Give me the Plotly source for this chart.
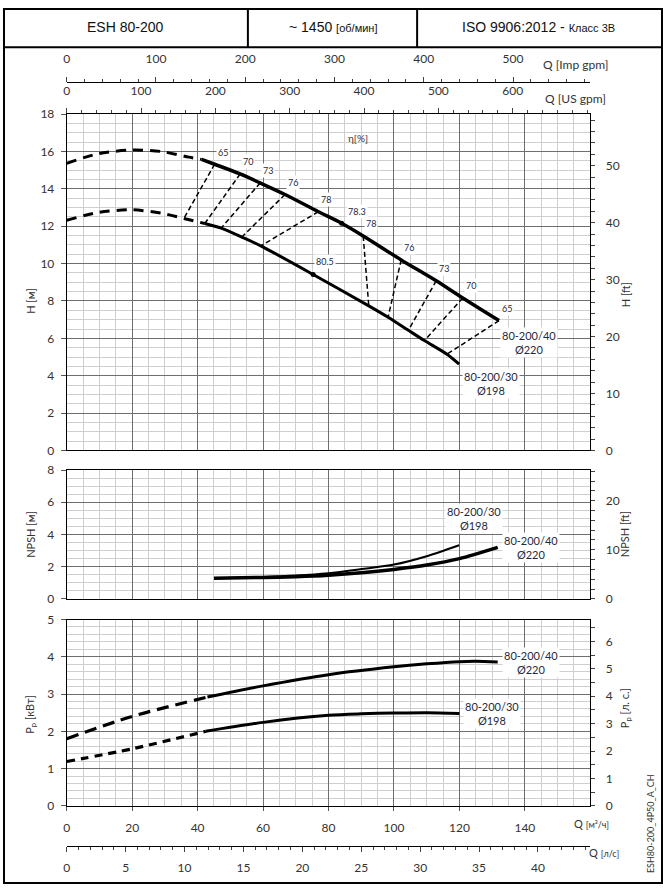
import plotly.graph_objects as go

W, HGT = 663, 891

# ---------------- data ----------------
# unit conversions (relative to m3/h, m, kW)
M3H_PER_IMPGPM = 0.272765
M3H_PER_USGPM = 0.227125
M3H_PER_LS = 3.6
FT_PER_M = 3.28084
KW_PER_HP = 0.7355
Q_MAX = 160

# H curves  (Q m3/h, H m)
q_h220_dash = [0, 10, 20, 29, 37.3, 41.2]
h_h220_dash = [15.37, 15.9, 16.08, 16.0, 15.7, 15.58]
q_h220 = [41.2, 45.2, 53.0, 59.1, 66.7, 76.9, 84.0, 90.6, 102.2, 112.9, 121.0, 132.1]
h_h220 = [15.58, 15.32, 14.80, 14.32, 13.70, 12.78, 12.16, 11.48, 10.2, 9.08, 8.16, 6.95]

q_h198_dash = [0, 10, 20, 29, 35.8, 42.2]
h_h198_dash = [12.32, 12.75, 12.88, 12.7, 12.42, 12.15]
q_h198 = [42.2, 47.2, 53.5, 59.3, 75.3, 92.3, 98.2, 104.4, 109.3, 116.2, 119.9]
h_h198 = [12.15, 11.9, 11.42, 10.95, 9.42, 7.74, 7.13, 6.43, 5.88, 5.15, 4.62]

# iso-efficiency lines
eta_labels = ["65", "70", "73", "76", "78", "78", "76", "73", "70", "65"]
eta_q_top = [45.2, 53.0, 59.1, 66.7, 76.9, 90.6, 102.2, 112.9, 121.0, 132.1]
eta_h_top = [15.32, 14.80, 14.32, 13.70, 12.78, 11.48, 10.2, 9.08, 8.16, 6.95]
eta_q_bot = [35.8, 42.2, 47.2, 53.5, 59.3, 92.3, 98.2, 104.4, 109.3, 116.2]
eta_h_bot = [12.42, 12.15, 11.9, 11.42, 10.95, 7.74, 7.13, 6.43, 5.88, 5.15]

# best efficiency points
bep_labels = ["78.3", "80.5"]
bep_q = [84.0, 75.3]
bep_h = [12.16, 9.42]

# NPSH curves
q_npsh198 = [45, 60, 70, 80, 90, 100, 110, 119.9]
npsh198 = [1.28, 1.36, 1.45, 1.6, 1.85, 2.13, 2.65, 3.33]
q_npsh220 = [45, 60, 70, 80, 90, 100, 110, 120, 131.7]
npsh220 = [1.28, 1.33, 1.38, 1.47, 1.62, 1.83, 2.1, 2.5, 3.2]

# Power curves
q_p220_dash = [0, 20, 43]
p220_dash = [1.80, 2.40, 2.92]
q_p220 = [43, 60, 80, 100, 110, 120, 125, 131.7]
p220 = [2.92, 3.22, 3.52, 3.73, 3.81, 3.87, 3.88, 3.86]

q_p198_dash = [0, 20, 42.5]
p198_dash = [1.19, 1.53, 2.0]
q_p198 = [42.5, 60, 80, 90, 100, 110, 120]
p198 = [2.0, 2.24, 2.43, 2.47, 2.49, 2.5, 2.48]

curve_220 = "80-200/40<br>Ø220"
curve_198 = "80-200/30<br>Ø198"

# ---------------- helpers ----------------
def px(x):
    return x / W

def py(y):
    return 1 - y / HGT

XDOM = [px(64), px(590)]
DOM_H = [py(450), py(108)]
DOM_N = [py(601), py(470)]
DOM_P = [py(811.5), py(622)]

FONT = "Lato"
TXT = "#333333"
MAJ = "#6e6e6e"
MIN = "#cfcfcf"

fig = go.Figure()

def line(x, y, xa, ya, width, dash=None, shape="spline"):
    fig.add_trace(go.Scatter(
        x=x, y=y, xaxis=xa, yaxis=ya, mode="lines",
        line=dict(color="black", width=width, dash=dash, shape=shape, smoothing=0.8),
        hoverinfo="skip", showlegend=False))

# H
line(q_h220_dash, h_h220_dash, "x", "y", 3, "10px,7px")
line(q_h220, h_h220, "x", "y", 3.5)
line(q_h198_dash, h_h198_dash, "x", "y", 3, "10px,7px")
line(q_h198, h_h198, "x", "y", 3)
for i in range(len(eta_labels)):
    line([eta_q_top[i], eta_q_bot[i]], [eta_h_top[i], eta_h_bot[i]], "x", "y", 1.5,
         "5px,3px", "linear")
fig.add_trace(go.Scatter(x=bep_q, y=bep_h, xaxis="x", yaxis="y", mode="markers",
                         marker=dict(color="black", size=5), hoverinfo="skip",
                         showlegend=False))

# NPSH
line(q_npsh198, npsh198, "x2", "y2", 2)
line(q_npsh220, npsh220, "x2", "y2", 3.5)

# Power
line(q_p220_dash, p220_dash, "x3", "y3", 3.2, "12px,7px")
line(q_p220, p220, "x3", "y3", 3)
line(q_p198_dash, p198_dash, "x3", "y3", 3.2, "8px,6px")
line(q_p198, p198, "x3", "y3", 3)

# empty traces so the secondary axes get drawn
for xa, ya in [("x4", "y"), ("x5", "y"), ("x6", "y3"), ("x", "y4"), ("x2", "y5"), ("x3", "y6")]:
    fig.add_trace(go.Scatter(x=[], y=[], xaxis=xa, yaxis=ya, showlegend=False,
                             hoverinfo="skip"))

tickfont = dict(family=FONT, size=12, color=TXT)

def xmain(anchor, labels=False):
    d = dict(domain=XDOM, anchor=anchor, range=[0, Q_MAX], showgrid=True,
             gridcolor=MAJ, gridwidth=1, dtick=20, tick0=0,
             minor=dict(dtick=5, showgrid=True, gridcolor=MIN, gridwidth=1),
             showline=True, linecolor="black", linewidth=1, mirror=True,
             zeroline=False, showticklabels=labels, ticks="", tickfont=tickfont,
             fixedrange=True)
    if labels:
        d.update(tickmode="array", tickvals=list(range(0, 141, 20)), ticks="outside",
                 ticklen=4, tickcolor="#555", ticklabelstandoff=7)
    return d

def yleft(dom, anchor, rng, dt, mdt):
    return dict(domain=dom, anchor=anchor, range=rng, dtick=dt, tick0=0,
                showgrid=True, gridcolor=MAJ, gridwidth=1,
                minor=dict(dtick=mdt, showgrid=True, gridcolor=MIN, gridwidth=1),
                showline=True, linecolor="black", linewidth=1, mirror=True,
                zeroline=False, ticks="outside", ticklen=5, tickcolor="#555",
                tickfont=tickfont, ticklabelstandoff=4, fixedrange=True)

def yright(over, anchor, rng, vals, mdt):
    return dict(overlaying=over, anchor=anchor, side="right", range=rng,
                tickmode="array", tickvals=vals, showgrid=False, zeroline=False,
                showline=True, linecolor="black", linewidth=1,
                ticks="outside", ticklen=4, tickcolor="#444",
                minor=dict(dtick=mdt, ticks="outside", ticklen=4, tickcolor="#444",
                           showgrid=False),
                tickfont=tickfont, ticklabelstandoff=8, fixedrange=True)

def xsec(over, anchor, rng, dt, mdt, side, position=None, standoff=6):
    d = dict(overlaying=over, anchor=anchor, side=side, range=rng, dtick=dt, tick0=0,
             showgrid=False, zeroline=False, showline=True, linecolor="black",
             linewidth=1, ticks="outside", ticklen=5, tickcolor="#444",
             minor=dict(dtick=mdt, ticks="outside", ticklen=3, tickcolor="#444",
                        showgrid=False),
             tickfont=tickfont, ticklabelstandoff=standoff, fixedrange=True)
    if position is not None:
        d["position"] = position
    return d

fig.update_layout(
    width=W, height=HGT, margin=dict(l=0, r=0, t=0, b=0),
    paper_bgcolor="white", plot_bgcolor="white", showlegend=False,
    xaxis=xmain("y"), xaxis2=xmain("y2"), xaxis3=xmain("y3", True),
    yaxis=yleft(DOM_H, "x", [0, 18], 2, 0.5),
    yaxis2=yleft(DOM_N, "x2", [0, 8], 2, 0.5),
    yaxis3=yleft(DOM_P, "x3", [0, 5], 1, 0.2),
    yaxis4=yright("y", "x", [0, 18 * FT_PER_M], list(range(0, 51, 10)), 2),
    yaxis5=yright("y2", "x2", [0, 8 * FT_PER_M], [0, 10, 20], 2),
    yaxis6=yright("y3", "x3", [0, 5 / KW_PER_HP], list(range(0, 7)), 0.5),
    xaxis4=xsec("x", "free", [0, Q_MAX / M3H_PER_IMPGPM], 100, 20, "top", py(75), 9),
    xaxis5=xsec("x", "y", [0, Q_MAX / M3H_PER_USGPM], 100, 20, "top", None, 8),
    xaxis6=xsec("x3", "free", [0, Q_MAX / M3H_PER_LS], 5, 1, "bottom", py(852), 6),
)
for k in ["xaxis4", "xaxis5", "xaxis6"]:
    fig.layout[k].domain = XDOM
fig.layout.xaxis6.tickmode = "array"
fig.layout.xaxis6.tickvals = list(range(0, 41, 5))
fig.layout.xaxis4.tickmode = "array"
fig.layout.xaxis4.tickvals = list(range(0, 501, 100))
fig.layout.xaxis5.tickmode = "array"
fig.layout.xaxis5.tickvals = list(range(0, 601, 100))

ann = []

def pa(x, y, text, size=11, angle=0, family=FONT, color=TXT, **kw):
    ann.append(dict(x=px(x), y=py(y), xref="paper", yref="paper", text=text,
                    showarrow=False, textangle=angle, xanchor="center", yanchor="middle",
                    font=dict(family=family, size=size, color=color), **kw))

# header
HF = "Liberation Sans"
pa(123, 19, "ESH 80-200", 14, family=HF, color="#111")
pa(331, 19, "~ 1450 <span style='font-size:11px'>[об/мин]</span>", 14, family=HF, color="#111")
pa(538, 19, "ISO 9906:2012 - <span style='font-size:11px'>Класс 3B</span>", 14, family=HF,
   color="#111")

# axis titles
pa(575, 57, "Q [Imp gpm]", 12)
pa(575, 92, "Q [US gpm]", 12)
pa(591, 829, "Q <span style='font-size:9px'>[м³/ч]</span>", 11)
pa(604, 859, "Q <span style='font-size:9px'>[л/с]</span>", 11)
pa(28, 298, "H [м]", 11, -90)
pa(28, 535, "NPSH [м]", 11, -90)
pa(28, 718, "P<sub>p</sub> [кВт]", 11, -90)
pa(625, 292, "H [ft]", 11, -90)
pa(625, 535, "NPSH [ft]", 11, -90)
pa(625, 712, "P<sub>p</sub> [л. с.]", 11, -90)
pa(650, 830, "ESH80-200_4P50_A_CH", 9, -90)
pa(357, 132, "η[%]", 10)

def da(xa, ya, x, y, text, size, xs, ys, bg="white"):
    ann.append(dict(x=x, y=y, xref=xa, yref=ya, text=text, showarrow=False,
                    xshift=xs, yshift=ys, bgcolor=bg, borderpad=1,
                    font=dict(family=FONT, size=size, color="#1f2a40")))

for i, lab in enumerate(eta_labels):
    da("x", "y", eta_q_top[i], eta_h_top[i], lab, 9, 8, 12)
da("x", "y", bep_q[0], bep_h[0], bep_labels[0], 9, 15, 12)
da("x", "y", bep_q[1], bep_h[1], bep_labels[1], 9, 12, 13)

da("x", "y", q_h220[-1], h_h220[-1], curve_220, 11, 30, -22)
da("x", "y", q_h198[-1], h_h198[-1], curve_198, 11, 32, -19)
da("x2", "y2", q_npsh198[-1], npsh198[-1], curve_198, 11, 15, 27)
da("x2", "y2", q_npsh220[-1], npsh220[-1], curve_220, 11, 33, 0)
da("x3", "y3", q_p220[-1], p220[-1], curve_220, 11, 33, 0)
da("x3", "y3", q_p198[-1], p198[-1], curve_198, 11, 33, 0)

fig.update_layout(annotations=ann)

# frame
shapes = [
    dict(type="rect", xref="paper", yref="paper", x0=px(1), x1=px(662), y0=py(890), y1=py(1),
         line=dict(color="black", width=2)),
    dict(type="line", xref="paper", yref="paper", x0=px(1), x1=px(662), y0=py(40), y1=py(40),
         line=dict(color="black", width=2)),
    dict(type="line", xref="paper", yref="paper", x0=px(246), x1=px(246), y0=py(1), y1=py(40),
         line=dict(color="black", width=2)),
    dict(type="line", xref="paper", yref="paper", x0=px(416), x1=px(416), y0=py(1), y1=py(40),
         line=dict(color="black", width=2)),
]
fig.update_layout(shapes=shapes)

fig.write_html(
    "out.html",
    config={"displayModeBar": False},
    post_script="document.body.style.margin='0';document.body.style.overflow='hidden';",
)
